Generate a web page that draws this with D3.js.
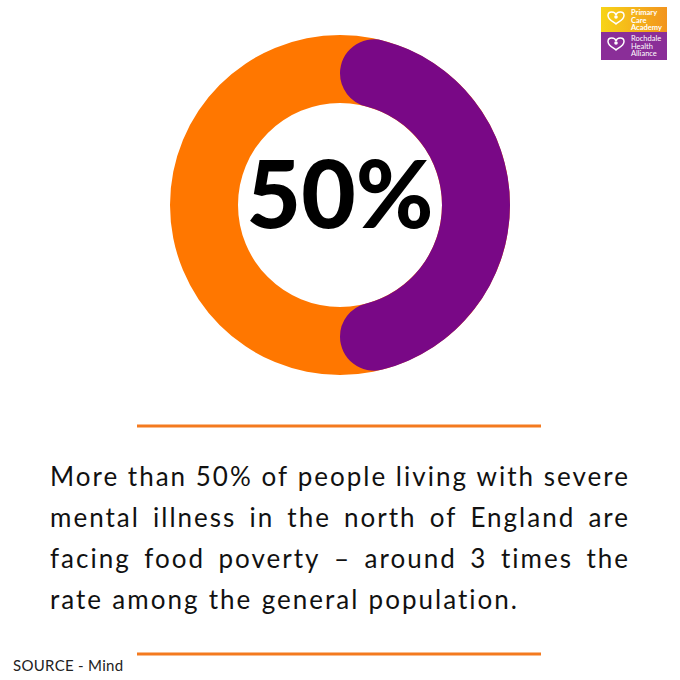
<!DOCTYPE html>
<html><head><meta charset="utf-8">
<script src="https://cdn.jsdelivr.net/npm/d3@7"></script>
<style>html,body{margin:0;padding:0;background:#fff;}svg{display:block;}</style>
</head><body>
<svg id="c" width="680" height="680"></svg>
<script>
const categories = ["Facing food poverty", "Not facing food poverty"];
const values = [50, 50];
const headline = "50%";
const bodyLines = [
  "More than 50% of people living with severe",
  "mental illness in the north of England are",
  "facing food poverty \u2013 around 3 times the",
  "rate among the general population."
];
const sourceText = "SOURCE - Mind";
const logoTop = ["Primary", "Care", "Academy"];
const logoBottom = ["Rochdale", "Health", "Alliance"];

const svg = d3.select("#c");
const cx = 340, cy = 205, rOuter = 170, rInner = 102;
const ORANGE = "#FF7700", PURPLE = "#790886";

// Donut
const g = svg.append("g").attr("transform", `translate(${cx},${cy})`);
const pie = d3.pie().sort(null).startAngle(0).endAngle(2 * Math.PI);
const arcs = pie(values);
const track = d3.arc().innerRadius(rInner).outerRadius(rOuter);
g.append("path")
  .attr("d", track({startAngle: 0, endAngle: 2 * Math.PI}))
  .attr("fill", ORANGE);
const arc = d3.arc().innerRadius(rInner).outerRadius(rOuter).cornerRadius((rOuter - rInner) / 2);
g.append("path")
  .attr("d", arc(arcs[0]))
  .attr("fill", PURPLE);

g.append("text")
  .attr("x", 0).attr("y", 23)
  .attr("text-anchor", "middle")
  .attr("font-family", "Lato, 'Open Sans', sans-serif")
  .attr("font-weight", 900)
  .attr("font-size", 94)
  .attr("fill", "#000")
  .text(headline);

// rules
const ruleX = d3.scaleLinear().domain([0, 1]).range([137, 541]);
[426, 654].forEach(y => {
  svg.append("line").attr("x1", ruleX(0)).attr("x2", ruleX(1))
    .attr("y1", y).attr("y2", y)
    .attr("stroke", "#F47A1F").attr("stroke-width", 3);
});

// justified body text
const left = 50, right = 628, lastLineEnd = 517;
const baselines = [486, 527, 568, 609];
const fontSize = 26;
const fontFam = "Lato, 'Open Sans', sans-serif";
const probe = svg.append("text").attr("font-family", fontFam).attr("font-size", fontSize)
  .attr("font-weight", 400).text(bodyLines[bodyLines.length - 1]);
const natural = probe.node().getComputedTextLength();
probe.remove();
const ls = (lastLineEnd - left - natural) / bodyLines[bodyLines.length - 1].length;

bodyLines.forEach((line, i) => {
  const words = line.split(" ");
  const grp = svg.append("g");
  const nodes = words.map(w => grp.append("text")
    .attr("font-family", fontFam)
    .attr("font-weight", 400)
    .attr("font-size", fontSize)
    .attr("letter-spacing", ls)
    .attr("fill", "#111")
    .attr("y", baselines[i])
    .text(w));
  const widths = nodes.map(n => n.node().getComputedTextLength() - ls);
  const total = d3.sum(widths);
  const isLast = i === bodyLines.length - 1;
  const end = isLast ? lastLineEnd : right;
  const gap = (end - left - total) / (words.length - 1);
  let x = left;
  nodes.forEach((n, k) => { n.attr("x", x); x += widths[k] + gap; });
});

svg.append("text")
  .attr("x", 13).attr("y", 671)
  .attr("font-family", fontFam)
  .attr("font-size", 15)
  .attr("letter-spacing", 0.3)
  .attr("fill", "#222")
  .text(sourceText);

// logo
const defs = svg.append("defs");
const lg = defs.append("linearGradient").attr("id", "yg").attr("x1", "0").attr("x2", "1");
lg.append("stop").attr("offset", "0").attr("stop-color", "#F7D417");
lg.append("stop").attr("offset", "1").attr("stop-color", "#F2941E");
const lx = 601, lw = 66;
svg.append("rect").attr("x", lx).attr("y", 7).attr("width", lw).attr("height", 25).attr("fill", "url(#yg)");
svg.append("rect").attr("x", lx).attr("y", 32).attr("width", lw).attr("height", 28).attr("fill", "#8A2E98");
const heart = "M0,3 C-1,-1 -8,-1 -8,3.5 C-8,8 -2,10 0,12 C2,10 8,8 8,3.5 C8,-1 1,-1 0,3 Z";
[[616, 12], [616, 38]].forEach(([hx, hy]) => {
  svg.append("path").attr("d", heart).attr("transform", `translate(${hx},${hy})`)
    .attr("fill", "none").attr("stroke", "#fff").attr("stroke-width", 1.5);
  svg.append("circle").attr("cx", hx).attr("cy", hy + 5).attr("r", 1.8).attr("fill", "#fff");
});
logoTop.forEach((t, i) => svg.append("text").attr("x", 631).attr("y", 15 + i * 7.5)
  .attr("font-family", fontFam).attr("font-weight", 700).attr("font-size", 7.5)
  .attr("fill", "#fff").text(t));
logoBottom.forEach((t, i) => svg.append("text").attr("x", 631).attr("y", 41 + i * 7.5)
  .attr("font-family", fontFam).attr("font-weight", 400).attr("font-size", 7.5)
  .attr("fill", "#fff").text(t));
</script>
</body></html>
